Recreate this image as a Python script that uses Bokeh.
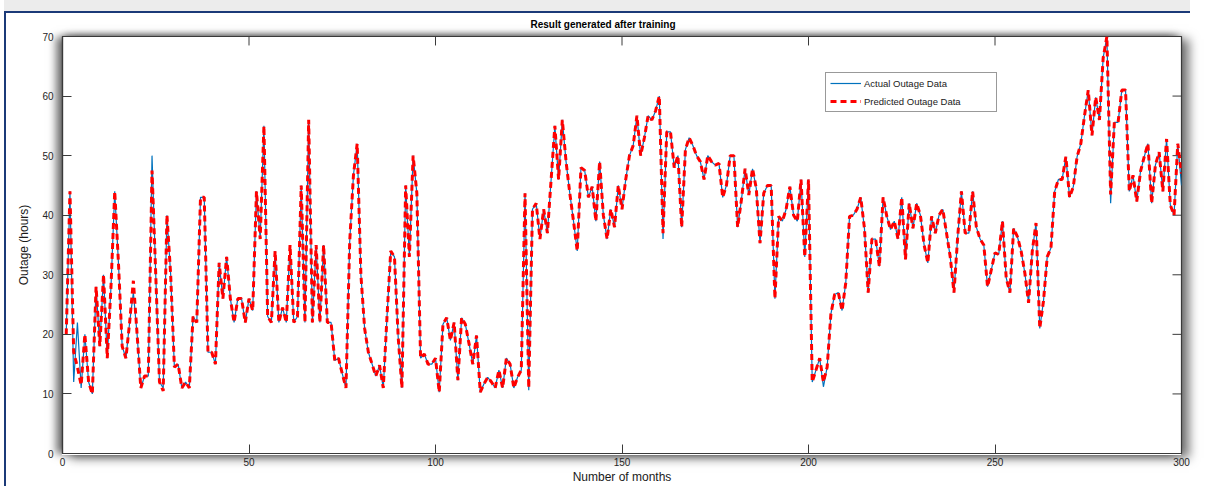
from bokeh.plotting import figure
from bokeh.models import Range1d, FixedTicker, Legend, LegendItem, InlineStyleSheet
from bokeh.embed import file_html
from bokeh.resources import INLINE

# ---------------- data ----------------
months = list(range(1, 301))
actual = [
    20, 44, 12, 22, 11, 20, 12, 10, 28, 18,
    30, 16, 28, 44, 32, 18, 16, 22, 27, 20,
    11, 13, 13, 50, 30, 12, 11, 40, 30, 14.5,
    15, 11, 12, 11, 23, 22, 43, 43, 17, 17,
    15, 32, 26, 33, 26, 22, 26, 26, 22, 26,
    24, 44, 36, 55, 23, 22, 34, 22, 24.5, 22,
    35, 22, 23, 45, 22, 56, 22, 35, 22, 35,
    22, 22, 15.6, 16, 13.4, 11, 35.6, 46.7, 52, 30,
    21, 17, 15, 13, 14.8, 11, 23, 34, 33, 19.5,
    11, 45, 33, 50, 43.7, 16, 16.7, 15, 15, 16,
    10.3, 21.7, 22.8, 19, 22, 12.3, 22.8, 21.7, 18.4, 15,
    19.8, 10.3, 11.7, 12.8, 12, 11, 14, 11, 16, 15,
    11, 12.8, 14, 43.7, 10.6, 41, 42, 36, 41, 37,
    46, 55, 46, 56, 49, 43.7, 39, 34, 48, 47.5,
    43, 44.8, 39, 49, 40, 36, 41, 38, 45, 41,
    46, 50, 51.7, 56.7, 50, 53, 56.7, 56, 57.5, 60,
    36, 54, 54, 48, 50, 38, 51, 53, 51.7, 50,
    49, 46, 50, 49, 48.4, 48.7, 43, 45, 50, 50,
    38, 42.5, 47.8, 43.4, 47.8, 44.5, 35.3, 43.7, 45, 45,
    26, 39.8, 39, 41, 44.8, 40, 39, 46, 33, 46,
    12, 14, 16, 11.2, 14.5, 23.4, 26.7, 27, 24, 28.7,
    39.8, 40, 41, 43, 37.8, 27, 36, 36, 31.4, 43,
    39.8, 37.6, 39, 36, 43, 32.6, 42, 37.8, 42, 40,
    35, 32, 39.8, 37, 40, 41, 37, 33, 27, 36.4,
    44, 37, 37, 44, 38, 36, 35, 28, 30.8, 33.7,
    33.4, 39, 29.5, 27, 37.8, 36.4, 34, 30.3, 25.3, 34,
    38.7, 21, 25.6, 33, 34.5, 44, 46, 46, 49.8, 43,
    44.8, 49.8, 52, 56.7, 61, 53.4, 59.8, 56, 66.4, 70,
    42, 55.6, 55.6, 61, 61, 44, 46.7, 42.3, 47.3, 49.8,
    52, 42, 48.4, 50.6, 44, 52.8, 41.7, 40, 52, 45,
]
predicted = [
    20, 44, 17, 14.5, 11.5, 20, 12, 10, 28, 18,
    30, 16, 28, 44, 32, 18, 16, 22, 29, 20,
    11, 13, 13, 47.5, 30, 12, 10.5, 40, 30, 14.5,
    15, 11, 12, 11, 23, 22, 43, 43, 17, 17,
    15, 32, 26, 33, 26, 22, 26, 26, 22, 26,
    24, 44, 36, 55, 23, 22, 34, 22, 24.5, 22,
    35, 22, 23, 45, 22, 56, 22, 35, 22, 35,
    22, 22, 15.6, 16, 13.4, 11, 35.6, 46.7, 52, 30,
    21, 17, 15, 13, 14.8, 11, 23, 34, 33, 19.5,
    11, 45, 33, 50, 43.7, 16, 16.7, 15, 15, 16,
    10.3, 21.7, 22.8, 19, 22, 12.3, 22.8, 21.7, 18.4, 15,
    19.8, 10.3, 11.7, 12.8, 12, 11, 14, 11, 16, 15,
    11, 12.8, 14, 43.7, 11, 41, 42, 36, 41, 37,
    46, 55, 46, 56, 49, 43.7, 39, 34, 48, 47.5,
    43, 44.8, 39, 49, 40, 36, 41, 38, 45, 41,
    46, 50, 51.7, 56.7, 50, 53, 56.7, 56, 57.5, 60,
    37, 54, 54, 48, 50, 38, 51, 53, 51.7, 50,
    49, 46, 50, 49, 48.4, 48.7, 43, 45, 50, 50,
    38, 42.5, 47.8, 43.4, 47.8, 44.5, 35.3, 43.7, 45, 45,
    26, 39.8, 39, 41, 44.8, 40, 39, 46, 33, 46,
    12, 14, 16, 12, 14.5, 23.4, 26.7, 27, 24, 28.7,
    39.8, 40, 41, 43, 37.8, 27, 36, 36, 31.4, 43,
    39.8, 37.6, 39, 36, 43, 32.6, 42, 37.8, 42, 40,
    35, 32, 39.8, 37, 40, 41, 37, 33, 27, 36.4,
    44, 37, 37, 44, 38, 36, 35, 28, 30.8, 33.7,
    33.4, 39, 29.5, 27, 37.8, 36.4, 34, 30.3, 25.3, 34,
    38.7, 21, 25.6, 33, 34.5, 44, 46, 46, 49.8, 43,
    44.8, 49.8, 52, 56.7, 61, 53.4, 59.8, 56, 66.4, 70,
    43.5, 55.6, 55.6, 61, 61, 44, 46.7, 42.3, 47.3, 49.8,
    52, 42, 48.4, 50.6, 44, 52.8, 41.7, 40, 52, 47,
]
x_ticks = [0, 50, 100, 150, 200, 250, 300]
y_ticks = [0, 10, 20, 30, 40, 50, 60, 70]
title_text = "Result generated after training"
x_label = "Number of months"
y_label = "Outage (hours)"
series_labels = ["Actual Outage Data", "Predicted Outage Data"]

# ---------------- figure ----------------
W, H = 1190, 486
FL, FR, FT, FB = 62, 1181, 36, 455      # frame edges (canvas px)
FONT = "Liberation Sans"
AX = "#3a3a3a"
XMIN, XMAX, YMIN, YMAX = 0, 300, 0, 70

# page decoration: grey band + navy rule on top, navy rule at left,
# soft drop shadow around the axes box (drawn beneath a transparent border)
css = f"""
:host {{ position: relative; }}
:host::before {{
  content: ""; position: absolute; pointer-events: none;
  left: {FL}px; top: {FT}px; width: {FR - FL}px; height: {FB - FT}px;
  box-shadow: -7px 0px 8px -1px rgba(0,0,0,0.55),
              8px 3px 10px 0px rgba(0,0,0,0.55),
              0px -4px 6px -2px rgba(0,0,0,0.30);
}}
:host::after {{
  content: ""; position: absolute; pointer-events: none; box-sizing: border-box;
  left: 4px; top: 11px; width: {W - 4}px; height: {H - 11}px;
  border-top: 2px solid #1b3a78; border-left: 2px solid #1b3a78;
  box-shadow: 0px -11px 0px 0px #ececec;
}}
"""

p = figure(width=W, height=H, output_backend="svg", toolbar_location=None,
           x_range=Range1d(XMIN, XMAX), y_range=Range1d(YMIN, YMAX),
           min_border_left=FL, min_border_right=W - FR,
           min_border_top=FT, min_border_bottom=H - FB,
           title=title_text)
p.stylesheets = [InlineStyleSheet(css=css)]
p.background_fill_color = "white"
p.border_fill_color = "white"
p.border_fill_alpha = 0.0
p.outline_line_color = AX
p.outline_line_width = 1.2
p.xgrid.visible = False
p.ygrid.visible = False

p.title.align = "left"
p.title.offset = 468
p.title.text_font = FONT
p.title.text_font_size = "10px"
p.title.text_font_style = "bold"
p.title.text_color = "#000000"
p.title.standoff = 13


def style_axis(ax):
    ax.axis_line_color = AX
    ax.axis_line_width = 1.2
    ax.major_tick_in = 9
    ax.major_tick_out = 0
    ax.minor_tick_in = 0
    ax.minor_tick_out = 0
    ax.major_tick_line_color = AX
    ax.major_label_text_font = FONT
    ax.major_label_text_color = "#262626"
    ax.major_label_text_font_size = "10px"
    ax.axis_label_text_font = FONT
    ax.axis_label_text_font_size = "12px"
    ax.axis_label_text_font_style = "normal"
    ax.axis_label_text_color = "#1a1a1a"


xa = p.xaxis[0]
xa.ticker = FixedTicker(ticks=x_ticks)
style_axis(xa)
xa.major_label_standoff = 4
xa.axis_label = x_label
xa.axis_label_standoff = 1

ya = p.yaxis[0]
ya.ticker = FixedTicker(ticks=y_ticks)
style_axis(ya)
ya.major_label_standoff = 9
ya.axis_label = y_label
ya.axis_label_standoff = 8

# mirrored tick marks on the top and right edges of the box
tick_len_y = 9 * (YMAX - YMIN) / (FB - FT)
tick_len_x = 9 * (XMAX - XMIN) / (FR - FL)
p.segment(x0=x_ticks, y0=[YMAX] * len(x_ticks), x1=x_ticks,
          y1=[YMAX - tick_len_y] * len(x_ticks), line_color=AX, line_width=1)
p.segment(x0=[XMAX] * len(y_ticks), y0=y_ticks,
          x1=[XMAX - tick_len_x] * len(y_ticks), y1=y_ticks,
          line_color=AX, line_width=1)

# ---------------- data lines ----------------
r1 = p.line(months, actual, line_color="#0072BD", line_width=1.2)
r2 = p.line(months, predicted, line_color="#FF0000", line_width=3,
            line_dash="6 4")

legend = Legend(items=[LegendItem(label=series_labels[0], renderers=[r1]),
                       LegendItem(label=series_labels[1], renderers=[r2])],
                location=(825 - FL, FB - 114))
legend.label_text_font = FONT
legend.label_text_font_size = "9.5px"
legend.label_text_color = "#1a1a1a"
legend.padding = 4
legend.spacing = 6
legend.margin = 0
legend.glyph_width = 31
legend.glyph_height = 12
legend.label_height = 12
legend.label_standoff = 3
legend.label_width = 128
legend.border_line_color = "#333333"
legend.border_line_width = 1
legend.background_fill_color = "white"
legend.background_fill_alpha = 1.0
p.add_layout(legend)

open("out.html", "w").write(file_html(p, INLINE))
